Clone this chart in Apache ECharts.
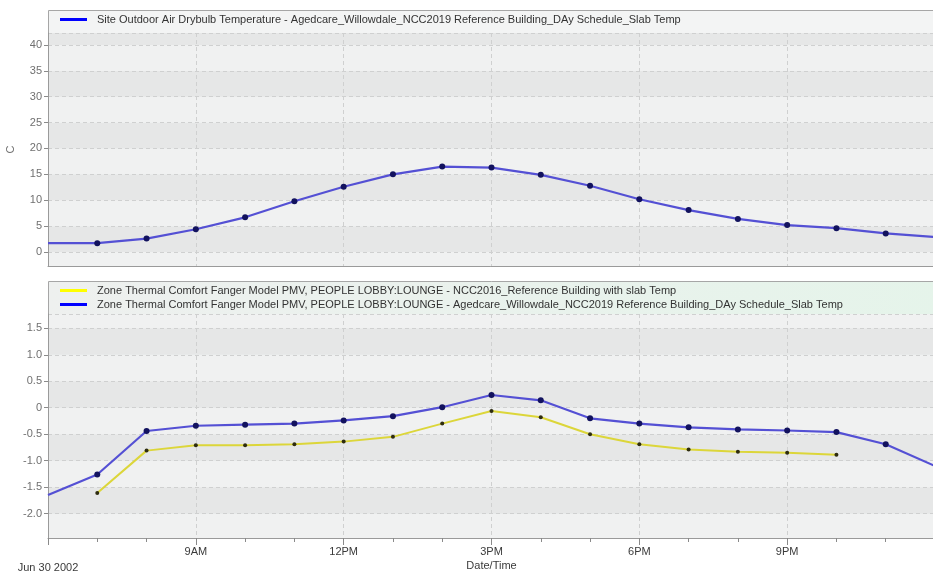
<!DOCTYPE html>
<html>
<head>
<meta charset="utf-8">
<script src="https://cdn.jsdelivr.net/npm/echarts@6/dist/echarts.min.js"></script>
<style>
html,body{margin:0;padding:0;background:#fff;}
#chart{width:933px;height:571px;}
</style>
</head>
<body>
<div id="chart"></div>
<script>
// ---- data (hour of day, Jun 30 2002) ----
const hours = [6,7,8,9,10,11,12,13,14,15,16,17,18,19,20,21,22,23,24];
const outdoorTemp = [1.7,1.7,2.6,4.4,6.7,9.8,12.6,15.0,16.5,16.3,14.9,12.8,10.2,8.1,6.4,5.2,4.6,3.6,2.9];
const pmvAgedcare = [-1.65,-1.26,-0.44,-0.34,-0.32,-0.30,-0.24,-0.16,0.01,0.24,0.14,-0.20,-0.30,-0.37,-0.41,-0.43,-0.46,-0.69,-1.10];
const pmvNCC2016 = [null,-1.61,-0.81,-0.71,-0.71,-0.69,-0.64,-0.55,-0.30,-0.06,-0.18,-0.50,-0.69,-0.79,-0.83,-0.85,-0.89,null,null];
const xTickValues = [6,9,12,15,18,21,24];
const xTickLabels = ['\nJun 30 2002','9AM','12PM','3PM','6PM','9PM',''];

const outdoorName = 'Site Outdoor Air Drybulb Temperature - Agedcare_Willowdale_NCC2019 Reference Building_DAy Schedule_Slab Temp';
const nccName = 'Zone Thermal Comfort Fanger Model PMV, PEOPLE LOBBY:LOUNGE - NCC2016_Reference Building with slab Temp';
const agedName = 'Zone Thermal Comfort Fanger Model PMV, PEOPLE LOBBY:LOUNGE - Agedcare_Willowdale_NCC2019 Reference Building_DAy Schedule_Slab Temp';

function buildData(vals){
  const out = [];
  vals.forEach((v,i)=>{
    if (v === null) return;
    const edge = hours[i] === hours[0] || hours[i] === hours[hours.length-1];
    out.push(edge ? {value:[hours[i], v], symbol:'none'} : {value:[hours[i], v]});
  });
  return out;
}

const FONT = 'Liberation Sans, Arial, sans-serif';
const bandColors = ['#f0f1f1', '#e6e7e7'];
const gridLine = {show:true, lineStyle:{color:'#cfd0d0', type:[4,3], width:1}};

function xAxisCfg(idx, showLabels){
  return {
    type:'value', gridIndex:idx, min:6, max:24, interval:3,
    axisLine:{show:true, onZero:false, lineStyle:{color:'#9a9a9a'}},
    axisTick:{show:showLabels, length:7, lineStyle:{color:'#8a8a8a'}},
    minorTick:{show:showLabels, splitNumber:3, length:4, lineStyle:{color:'#8a8a8a'}},
    splitLine:gridLine,
    axisLabel:{
      show:showLabels, color:'#3a3a3a', fontSize:11, fontFamily:FONT, lineHeight:16, margin:6,
      showMinLabel:true, showMaxLabel:true,
      formatter:(v)=>{ const k = xTickValues.indexOf(v); return k>=0 ? xTickLabels[k] : ''; }
    },
    name: showLabels ? 'Date/Time' : '',
    nameLocation:'middle', nameGap:22, nameMoveOverlap:false,
    nameTextStyle:{color:'#3a3a3a', fontSize:11, fontFamily:FONT}
  };
}

function yAxisCfg(idx, min, max, split, fmt, name){
  return {
    type:'value', gridIndex:idx, min:min, max:max, splitNumber:split,
    axisLine:{show:true, onZero:false, lineStyle:{color:'#9a9a9a'}},
    axisTick:{show:true, length:4, lineStyle:{color:'#8a8a8a'}},
    axisLabel:{color:'#707070', fontSize:11, fontFamily:FONT, margin:6, showMinLabel:false, showMaxLabel:false, formatter:fmt},
    splitLine:gridLine,
    splitArea:{show:true, areaStyle:{color:bandColors}},
    name:name, nameLocation:'middle', nameGap:32, nameMoveOverlap:false,
    nameTextStyle:{color:'#707070', fontSize:11, fontFamily:FONT}
  };
}

const chart = echarts.init(document.getElementById('chart'), null, {renderer:'canvas'});
const option = {
  animation:false,
  backgroundColor:'#ffffff',
  textStyle:{fontFamily:FONT},
  graphic:[
    {type:'rect', z:-10, shape:{x:48.5, y:10.5, width:900, height:256}, style:{fill:'#f3f4f4', stroke:'#a6a6a6', lineWidth:1}},
    {type:'rect', z:-10, shape:{x:48.5, y:281.5, width:900, height:257},
      style:{fill:new echarts.graphic.LinearGradient(0,0,1,0,[{offset:0,color:'#eef0ef'},{offset:1,color:'#e5f4ea'}]), stroke:'#a6a6a6', lineWidth:1}},
    {type:'rect', z:-9, shape:{x:49, y:314, width:900, height:224}, style:{fill:'#eef0f0'}}
  ],
  legend:[
    {
      top:9, left:55, orient:'vertical', icon:'rect', itemWidth:27, itemHeight:3, itemGap:1,
      textStyle:{color:'#333', fontSize:11, fontFamily:FONT, padding:[0,0,0,5]},
      data:[{name:outdoorName, itemStyle:{color:'#0000ff'}}]
    },
    {
      top:280, left:55, orient:'vertical', icon:'rect', itemWidth:27, itemHeight:3, itemGap:3,
      textStyle:{color:'#333', fontSize:11, fontFamily:FONT, padding:[0,0,0,5]},
      data:[{name:nccName, itemStyle:{color:'#ffff00'}}, {name:agedName, itemStyle:{color:'#0000ff'}}]
    }
  ],
  grid:[
    {left:48, right:-2, top:33, height:233, outerBoundsMode:'none', containLabel:false},
    {left:48, right:-2, top:314, height:224, outerBoundsMode:'none', containLabel:false}
  ],
  xAxis:[xAxisCfg(0,false), xAxisCfg(1,true)],
  yAxis:[
    yAxisCfg(0, -2.7, 42.3, 9, (v)=>String(v), 'C'),
    yAxisCfg(1, -2.46, 1.77, 8, (v)=> v===0 ? '0' : v.toFixed(1), '')
  ],
  series:[
    {
      name:outdoorName, type:'line', xAxisIndex:0, yAxisIndex:0,
      data:buildData(outdoorTemp),
      symbol:'circle', symbolSize:6,
      lineStyle:{color:'#5450d4', width:2.2},
      itemStyle:{color:'#12125e'}
    },
    {
      name:nccName, type:'line', xAxisIndex:1, yAxisIndex:1,
      data:buildData(pmvNCC2016),
      symbol:'circle', symbolSize:4,
      lineStyle:{color:'#dcd63a', width:2},
      itemStyle:{color:'#2e2c10'}
    },
    {
      name:agedName, type:'line', xAxisIndex:1, yAxisIndex:1,
      data:buildData(pmvAgedcare),
      symbol:'circle', symbolSize:6,
      lineStyle:{color:'#5450d4', width:2.2},
      itemStyle:{color:'#12125e'}
    }
  ]
};
chart.setOption(option);
</script>
</body>
</html>
